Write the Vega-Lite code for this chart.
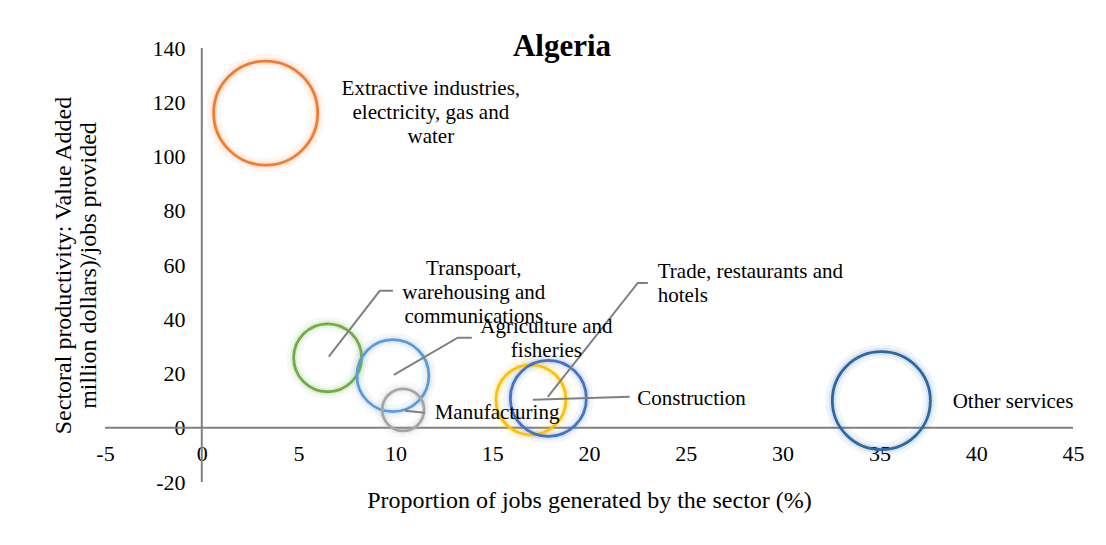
{
  "$schema": "https://vega.github.io/schema/vega-lite/v6.json",
  "autosize": {"type": "none"},
  "padding": {"left": 105, "top": 48, "right": 33, "bottom": 63},
  "width": 968,
  "height": 434,
  "background": "white",
  "config": {
    "font": "Liberation Serif",
    "view": {"stroke": null}
  },
  "title": {
    "text": "Algeria",
    "font": "Liberation Serif",
    "fontSize": 31,
    "fontWeight": "bold",
    "color": "#000000",
    "anchor": "middle",
    "frame": "group",
    "baseline": "alphabetic",
    "offset": -12,
    "dx": -27,
    "dy": 42
  },
  "datasets": {
    "sectors": [
      {"sector": "Extractive industries, electricity, gas and water", "jobs": 3.3, "productivity": 116.0, "bubble": 108.2},
      {"sector": "Transpoart, warehousing and communications", "jobs": 6.5, "productivity": 25.8, "bubble": 46.2},
      {"sector": "Agriculture and fisheries", "jobs": 9.87, "productivity": 19.2, "bubble": 51.8},
      {"sector": "Manufacturing", "jobs": 10.4, "productivity": 6.6, "bubble": 17.6},
      {"sector": "Construction", "jobs": 17.0, "productivity": 10.3, "bubble": 49.0},
      {"sector": "Trade, restaurants and hotels", "jobs": 17.9, "productivity": 10.8, "bubble": 57.8},
      {"sector": "Other services", "jobs": 35.1, "productivity": 10.0, "bubble": 96.0}
    ],
    "axislines": [
      {"x": -5, "x2": 45, "y": 0, "y2": 0},
      {"x": 0, "x2": 0, "y": -20, "y2": 140}
    ],
    "leaders": [
      {"sector": "Transport", "order": 1, "x": 9.87, "y": 50.5},
      {"sector": "Transport", "order": 2, "x": 9.19, "y": 50.5},
      {"sector": "Transport", "order": 3, "x": 6.56, "y": 26.2},
      {"sector": "Agriculture", "order": 1, "x": 13.95, "y": 33.2},
      {"sector": "Agriculture", "order": 2, "x": 13.22, "y": 33.2},
      {"sector": "Agriculture", "order": 3, "x": 9.92, "y": 19.5},
      {"sector": "Manufacturing", "order": 1, "x": 10.49, "y": 6.3},
      {"sector": "Manufacturing", "order": 2, "x": 11.52, "y": 5.5},
      {"sector": "Construction", "order": 1, "x": 17.1, "y": 10.3},
      {"sector": "Construction", "order": 2, "x": 22.1, "y": 11.4},
      {"sector": "Trade", "order": 1, "x": 23.04, "y": 53.4},
      {"sector": "Trade", "order": 2, "x": 22.52, "y": 53.4},
      {"sector": "Trade", "order": 3, "x": 17.87, "y": 11.4}
    ],
    "labels": [
      {"label": "Extractive industries,\nelectricity, gas and\nwater", "x": 11.83, "y": 124.9, "align": "center"},
      {"label": "Transpoart,\nwarehousing and\ncommunications", "x": 14.05, "y": 58.6, "align": "center"},
      {"label": "Agriculture and\nfisheries", "x": 17.8, "y": 37.2, "align": "center"},
      {"label": "Manufacturing", "x": 15.25, "y": 5.5, "align": "center"},
      {"label": "Construction", "x": 25.3, "y": 10.7, "align": "center"},
      {"label": "Other services", "x": 41.9, "y": 9.6, "align": "center"},
      {"label": "Trade, restaurants and\nhotels", "x": 23.55, "y": 57.5, "align": "left"}
    ]
  },
  "layer": [
    {
      "data": {"name": "axislines"},
      "mark": {"type": "rule", "color": "#808080", "strokeWidth": 2},
      "encoding": {
        "x": {"field": "x", "type": "quantitative", "scale": {"domain": [-5, 45], "nice": false, "zero": false},
          "axis": {
            "orient": "bottom", "offset": -54, "domain": false, "ticks": false, "grid": false,
            "values": [-5, 0, 5, 10, 15, 20, 25, 30, 35, 40, 45],
            "labelExpr": "toString(datum.value)",
            "labelFontSize": 22, "labelColor": "#000000", "labelPadding": 15, "labelFlush": false, "labelOverlap": false,
            "labelFont": "Liberation Serif",
            "title": "Proportion of jobs generated by the sector (%)",
            "titleFont": "Liberation Serif", "titleFontSize": 24, "titleFontWeight": "normal", "titleColor": "#000000",
            "titlePadding": 24
          }},
        "x2": {"field": "x2"},
        "y": {"field": "y", "type": "quantitative", "scale": {"domain": [-20, 140], "nice": false, "zero": false},
          "axis": {
            "orient": "left", "offset": -97, "domain": false, "ticks": false, "grid": false,
            "values": [-20, 0, 20, 40, 60, 80, 100, 120, 140],
            "labelExpr": "toString(datum.value)",
            "labelFontSize": 22, "labelColor": "#000000", "labelPadding": 17, "labelFlush": false, "labelOverlap": false,
            "labelFont": "Liberation Serif",
            "title": ["Sectoral productivity: Value Added", "million dollars)/jobs provided"],
            "titleFont": "Liberation Serif", "titleFontSize": 24, "titleFontWeight": "normal", "titleColor": "#000000",
            "titleLineHeight": 25, "titlePadding": 52
          }},
        "y2": {"field": "y2"}
      }
    },
    {
      "data": {"name": "sectors"},
      "mark": {"type": "point", "shape": "circle", "filled": false, "strokeWidth": 14, "opacity": 0.06},
      "encoding": {
        "x": {"field": "jobs", "type": "quantitative"},
        "y": {"field": "productivity", "type": "quantitative"},
        "size": {"field": "bubble", "type": "quantitative", "scale": {"type": "linear", "domain": [0, 100], "range": [0, 10000]}, "legend": null},
        "color": {"field": "sector", "type": "nominal", "legend": null,
          "scale": {
            "domain": ["Extractive industries, electricity, gas and water", "Transpoart, warehousing and communications", "Agriculture and fisheries", "Manufacturing", "Construction", "Trade, restaurants and hotels", "Other services"],
            "range": ["#ED7D31", "#70AD47", "#5B9BD5", "#A5A5A5", "#FFC000", "#4472C4", "#2B67A3"]
          }}
      }
    },
    {
      "data": {"name": "sectors"},
      "mark": {"type": "point", "shape": "circle", "filled": false, "strokeWidth": 7, "opacity": 0.12},
      "encoding": {
        "x": {"field": "jobs", "type": "quantitative"},
        "y": {"field": "productivity", "type": "quantitative"},
        "size": {"field": "bubble", "type": "quantitative", "scale": {"type": "linear", "domain": [0, 100], "range": [0, 10000]}, "legend": null},
        "color": {"field": "sector", "type": "nominal", "legend": null}
      }
    },
    {
      "data": {"name": "sectors"},
      "mark": {"type": "point", "shape": "circle", "filled": false, "strokeWidth": 2.8, "opacity": 1},
      "encoding": {
        "x": {"field": "jobs", "type": "quantitative"},
        "y": {"field": "productivity", "type": "quantitative"},
        "size": {"field": "bubble", "type": "quantitative", "scale": {"type": "linear", "domain": [0, 100], "range": [0, 10000]}, "legend": null},
        "color": {"field": "sector", "type": "nominal", "legend": null}
      }
    },
    {
      "data": {"name": "leaders"},
      "mark": {"type": "line", "color": "#808080", "strokeWidth": 2},
      "encoding": {
        "x": {"field": "x", "type": "quantitative"},
        "y": {"field": "y", "type": "quantitative"},
        "detail": {"field": "sector"},
        "order": {"field": "order"}
      }
    },
    {
      "data": {"name": "labels"},
      "transform": [{"filter": "datum.align === 'center'"}],
      "mark": {"type": "text", "align": "center", "baseline": "middle", "font": "Liberation Serif", "fontSize": 21, "lineBreak": "\n", "lineHeight": 24, "color": "#000000"},
      "encoding": {
        "x": {"field": "x", "type": "quantitative"},
        "y": {"field": "y", "type": "quantitative"},
        "text": {"field": "label"}
      }
    },
    {
      "data": {"name": "labels"},
      "transform": [{"filter": "datum.align === 'left'"}],
      "mark": {"type": "text", "align": "left", "baseline": "middle", "font": "Liberation Serif", "fontSize": 21, "lineBreak": "\n", "lineHeight": 24, "color": "#000000"},
      "encoding": {
        "x": {"field": "x", "type": "quantitative"},
        "y": {"field": "y", "type": "quantitative"},
        "text": {"field": "label"}
      }
    }
  ]
}
